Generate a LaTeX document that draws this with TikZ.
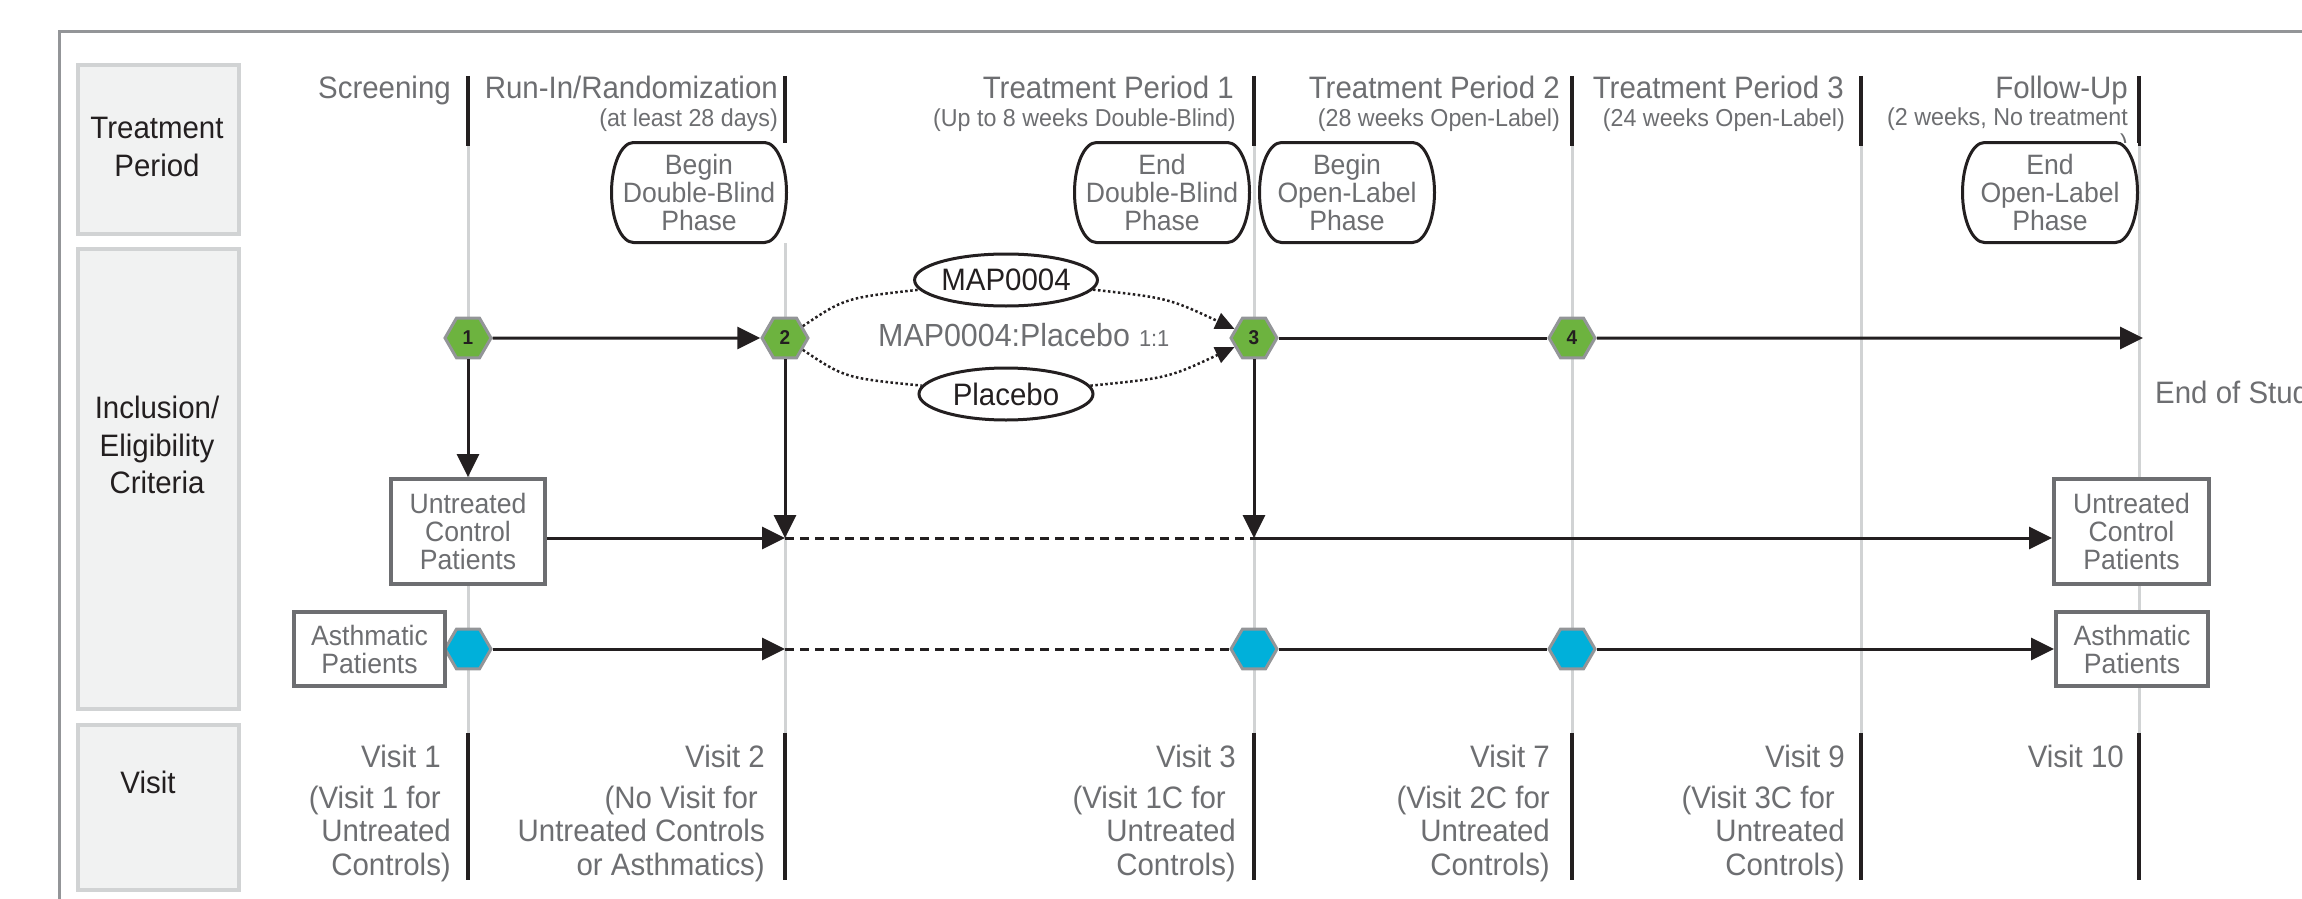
\documentclass[tikz,border=0pt]{standalone}
\usepackage{fontspec}
\setmainfont{Liberation Sans}[FakeStretch=0.95]
\usetikzlibrary{arrows.meta,shapes.geometric}
\definecolor{inkdark}{HTML}{231F20}
\definecolor{inkgray}{HTML}{6D6E71}
\definecolor{guidegray}{HTML}{D1D3D4}
\definecolor{headfill}{HTML}{F1F2F2}
\definecolor{framegray}{HTML}{939598}
\definecolor{hexgreen}{HTML}{6DB33F}
\definecolor{hexblue}{HTML}{00B0DA}
\tikzset{
	guide/.style={draw=guidegray,line width=3pt},
	tick/.style={draw=inkdark,line width=4pt},
	headbox/.style={draw=guidegray,line width=4pt,fill=headfill,inner sep=0pt,minimum width=161pt},
	headtext/.style={text=inkdark,align=center,inner sep=0pt,font=\fontsize{31}{37.5}\selectfont},
	period/.style={text=inkgray,inner sep=0pt,anchor=base east,font=\fontsize{31}{33}\selectfont},
	periodsub/.style={text=inkgray,inner sep=0pt,anchor=base east,font=\fontsize{24.5}{26}\selectfont},
	visitnote/.style={text=inkgray,inner sep=0pt,anchor=north east,align=right,font=\fontsize{31}{33.5}\selectfont},
	phase/.style={fill=white,inner sep=0pt,outer sep=0pt,minimum width=175pt,minimum height=100pt,align=center,text=inkgray,font=\fontsize{28}{28}\selectfont},
	phaseline/.style={draw=inkdark,line width=3pt},
	patient/.style={draw=inkgray,line width=4pt,fill=white,inner sep=0pt,align=center,text=inkgray,font=\fontsize{28}{28}\selectfont},
	visitmark/.style={regular polygon,regular polygon sides=6,minimum size=46pt,inner sep=0pt,draw=framegray,line width=3pt,text=inkdark,font=\fontsize{20}{20}\selectfont\bfseries},
	arm/.style={ellipse,draw=inkdark,line width=3pt,fill=white,minimum width=174pt,minimum height=52pt,inner sep=0pt,text=inkdark,font=\fontsize{31}{31}\selectfont},
	flow/.style={draw=inkdark,line width=3pt},
	flowarrow/.style={flow,-{Triangle[length=23pt,width=22pt]}},
	dotflow/.style={draw=inkdark,line width=2.5pt,dash pattern=on 2.5pt off 2.5pt},
	dotarrow/.style={dotflow,-{Triangle[length=19pt,width=17pt]}},
	dashflow/.style={draw=inkdark,line width=3pt,dash pattern=on 9pt off 6pt}
}
\begin{document}
\begin{tikzpicture}[x=1pt,y=-1pt]
	\useasboundingbox (0,0) rectangle (2302,899);
	\draw[draw=framegray,line width=3pt] (2340,32) -| (59,940);
	\node[headbox,minimum height=169pt] (tphead) at (158.5,149.5) {};
	\node[headbox,minimum height=460pt] (inchead) at (158.5,479) {};
	\node[headbox,minimum height=165pt] (vishead) at (158.5,807.5) {};
	\node[headtext] (tplabel) at (157,147) {Treatment\\Period};
	\node[headtext] (inclabel) at (157,445) {Inclusion/\\Eligibility\\Criteria};
	\node[headtext] (vislabel) at (148,782) {Visit};
	\foreach \x in {468,785,1254,1572,1861,2139}{
		\draw[guide] (\x,140) -- (\x,740);
		\draw[tick] (\x,76) -- (\x,146);
		\draw[tick] (\x,733) -- (\x,880);
	}
	\node[period] (screen) at (451,99) {Screening};
	\node[period] (runin) at (778,99) {Run-In/Randomization};
	\node[periodsub] (runinsub) at (778,126) {(at least 28 days)};
	\node[period] (tp1) at (1234,99) {Treatment Period 1};
	\node[periodsub] (tp1sub) at (1236,126) {(Up to 8 weeks Double-Blind)};
	\node[period] (tp2) at (1560,99) {Treatment Period 2};
	\node[periodsub] (tp2sub) at (1560,126) {(28 weeks Open-Label)};
	\node[period] (tp3) at (1844,99) {Treatment Period 3};
	\node[periodsub] (tp3sub) at (1845,126) {(24 weeks Open-Label)};
	\node[period] (fu) at (2128,99) {Follow-Up};
	\node[periodsub,anchor=north east,align=right] (fusub) at (2128,108) {(2 weeks, No treatment\\)};
	\node[phase] (bdb) at (699,192.5) {Begin\\Double-Blind\\Phase};
	\node[phase] (edb) at (1162,192.5) {End\\Double-Blind\\Phase};
	\node[phase] (bol) at (1347,192.5) {Begin\\Open-Label\\Phase};
	\node[phase] (eol) at (2050,192.5) {End\\Open-Label\\Phase};
	\foreach \n in {bdb,edb,bol,eol}
		\draw[phaseline] ([xshift=22pt]\n.north west) -- ([xshift=-22pt]\n.north east)
			.. controls ([xshift=-10pt]\n.north east) and ([yshift=28pt]\n.east) .. (\n.east)
			.. controls ([yshift=-28pt]\n.east) and ([xshift=-10pt]\n.south east) .. ([xshift=-22pt]\n.south east)
			-- ([xshift=22pt]\n.south west)
			.. controls ([xshift=10pt]\n.south west) and ([yshift=-28pt]\n.west) .. (\n.west)
			.. controls ([yshift=28pt]\n.west) and ([xshift=10pt]\n.north west) .. cycle;
	\node[arm] (map) at (1006,280) {MAP0004};
	\node[arm] (plc) at (1006,394) {Placebo};
	\node[text=inkgray,anchor=base west,inner sep=0pt,font=\fontsize{32}{32}\selectfont] (ratio) at (878,346) {MAP0004:Placebo\hspace{9pt}{\fontsize{23}{23}\selectfont 1:1}};
	\node[visitmark,fill=hexgreen] (h1) at (468,338) {1};
	\node[visitmark,fill=hexgreen] (h2) at (785,338) {2};
	\node[visitmark,fill=hexgreen] (h3) at (1254,338) {3};
	\node[visitmark,fill=hexgreen] (h4) at (1572,338) {4};
	\node[visitmark,fill=hexblue] (a1) at (468,649) {};
	\node[visitmark,fill=hexblue] (a3) at (1254,649) {};
	\node[visitmark,fill=hexblue] (a4) at (1572,649) {};
	\node[patient,minimum width=154pt,minimum height=105pt] (ucl) at (468,531.5) {Untreated\\Control\\Patients};
	\node[patient,minimum width=155pt,minimum height=105pt] (ucr) at (2131.5,531.5) {Untreated\\Control\\Patients};
	\node[patient,minimum width=151pt,minimum height=74pt] (asl) at (369.5,649) {Asthmatic\\Patients};
	\node[patient,minimum width=152pt,minimum height=74pt] (asr) at (2132,649) {Asthmatic\\Patients};
	\node[period,anchor=base west] (eos) at (2155,403) {End of Study};
	\coordinate (j2u) at (785,538);
	\coordinate (j3u) at (1254,538);
	\coordinate (j2a) at (785,649);
	\coordinate (fin) at (2143,338);
	\draw[flowarrow] (h1) -- (h2);
	\draw[flowarrow] (h1) -- (ucl);
	\draw[flowarrow] (ucl.east |- j2u) -- (j2u);
	\draw[flowarrow] (h2) -- (j2u);
	\draw[dashflow] (j2u) -- (j3u);
	\draw[flowarrow] (h3) -- (j3u);
	\draw[flowarrow] (j3u) -- (ucr.west |- j3u);
	\draw[flowarrow] (a1) -- (j2a);
	\draw[dashflow] (j2a) -- (a3);
	\draw[flow] (a3) -- (a4);
	\draw[flowarrow] (a4) -- (asr);
	\draw[flow] (h3) -- (h4);
	\draw[flowarrow] (h4) -- (fin);
	\draw[dotflow] (h2) .. controls (845,298) .. (map);
	\draw[dotarrow] (map) .. controls (1168,298) .. (h3);
	\draw[dotflow] (h2) .. controls (845,378) .. (plc);
	\draw[dotarrow] (plc) .. controls (1168,378) .. (h3);
	\node[period] (v1) at (441,767) {Visit 1};
	\node[visitnote] (v1note) at (451,785.5) {(Visit 1 for\hspace*{10pt}\\Untreated\\Controls)};
	\node[period] (v2) at (765,767) {Visit 2};
	\node[visitnote] (v2note) at (765,785.5) {(No Visit for\hspace*{7pt}\\Untreated Controls\hspace*{7pt}\\or Asthmatics)};
	\node[period] (v3) at (1236,767) {Visit 3};
	\node[visitnote] (v3note) at (1236,785.5) {(Visit 1C for\hspace*{10pt}\\Untreated\hspace*{10pt}\\Controls)};
	\node[period] (v7) at (1550,767) {Visit 7};
	\node[visitnote] (v7note) at (1550,785.5) {(Visit 2C for\\Untreated\hspace*{9pt}\\Controls)};
	\node[period] (v9) at (1845,767) {Visit 9};
	\node[visitnote] (v9note) at (1845,785.5) {(Visit 3C for\hspace*{10pt}\\Untreated\hspace*{10pt}\\Controls)};
	\node[period] (v10) at (2124,767) {Visit 10};
\end{tikzpicture}
\end{document}
